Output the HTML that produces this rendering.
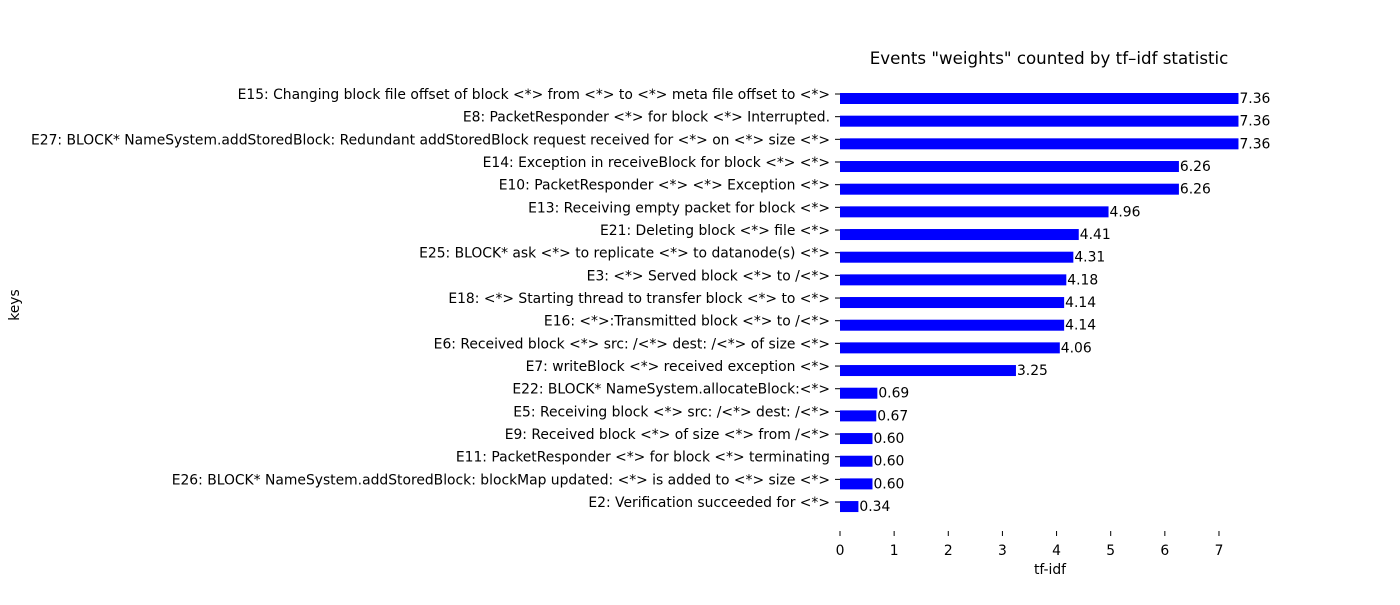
<!DOCTYPE html>
<html><head><meta charset="utf-8"><style>
body{margin:0;background:#fff}
svg text{font-family:"DejaVu Sans","Liberation Sans",sans-serif;font-size:13.89px;fill:#000}
</style></head><body>
<svg id="chart" width="1400" height="600" xmlns="http://www.w3.org/2000/svg">
<text x="1049" y="64" text-anchor="middle" style="font-size:16.67px">Events "weights" counted by tf–idf statistic</text>
<text transform="translate(19,305) rotate(-90)" text-anchor="middle">keys</text>
<text x="1050" y="574" text-anchor="middle">tf-idf</text>
<g id="bars"></g><g id="xticks"></g>
</svg>
<script>
const categories=["E15: Changing block file offset of block <*> from <*> to <*> meta file offset to <*>","E8: PacketResponder <*> for block <*> Interrupted.","E27: BLOCK* NameSystem.addStoredBlock: Redundant addStoredBlock request received for <*> on <*> size <*>","E14: Exception in receiveBlock for block <*> <*>","E10: PacketResponder <*> <*> Exception <*>","E13: Receiving empty packet for block <*>","E21: Deleting block <*> file <*>","E25: BLOCK* ask <*> to replicate <*> to datanode(s) <*>","E3: <*> Served block <*> to /<*>","E18: <*> Starting thread to transfer block <*> to <*>","E16: <*>:Transmitted block <*> to /<*>","E6: Received block <*> src: /<*> dest: /<*> of size <*>","E7: writeBlock <*> received exception <*>","E22: BLOCK* NameSystem.allocateBlock:<*>","E5: Receiving block <*> src: /<*> dest: /<*>","E9: Received block <*> of size <*> from /<*>","E11: PacketResponder <*> for block <*> terminating","E26: BLOCK* NameSystem.addStoredBlock: blockMap updated: <*> is added to <*> size <*>","E2: Verification succeeded for <*>"];
const values=[7.36,7.36,7.36,6.26,6.26,4.96,4.41,4.31,4.18,4.14,4.14,4.06,3.25,0.69,0.67,0.60,0.60,0.60,0.34];
const xTicks=[0,1,2,3,4,5,6,7];
const NS="http://www.w3.org/2000/svg";
const x=v=>840+v*54.14;
const y=i=>93+i*22.67;
function mk(t,a,p){const e=document.createElementNS(NS,t);for(const k in a)e.setAttribute(k,a[k]);p.appendChild(e);return e;}
const bars=document.getElementById('bars');
values.forEach((v,i)=>{
 const r=mk('rect',{x:x(0),y:y(i),width:x(v)-x(0),height:11,fill:'#0000ff'},bars);
 
 
 const tk=mk('line',{x1:835,x2:840,y1:y(i)+1,y2:y(i)+1,stroke:'#000','stroke-width':1},bars);
 
 
 const l=mk('text',{x:830,y:y(i)+6,'text-anchor':'end'},bars);
 l.textContent=categories[i];
 
 
 const vl=mk('text',{x:x(v)+1,y:y(i)+10},bars);
 vl.textContent=v.toFixed(2);
 
 
});
const xt=document.getElementById('xticks');
xTicks.forEach(t=>{
 const ln=mk('line',{x1:x(t),x2:x(t),y1:531,y2:536,stroke:'#000','stroke-width':1},xt);
 
 
 const tl=mk('text',{x:x(t),y:555,'text-anchor':'middle'},xt);
 tl.textContent=t;
 
 
});
</script>
</body></html>
